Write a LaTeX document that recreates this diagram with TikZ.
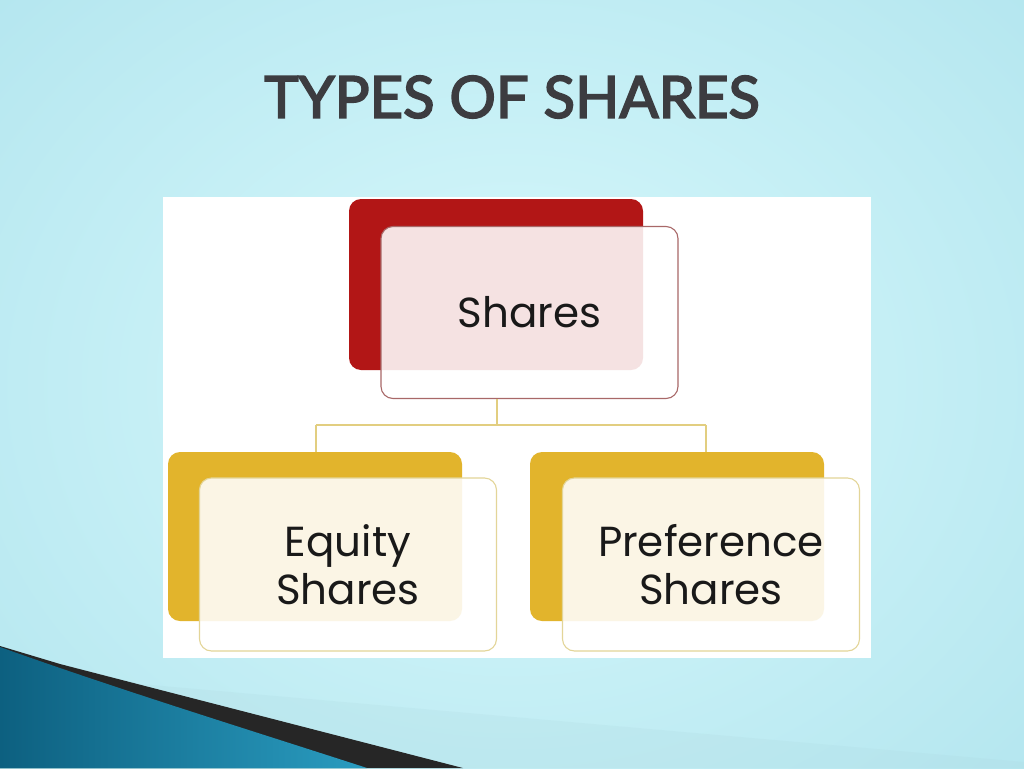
\documentclass[tikz,border=0pt]{standalone}
\usepackage{fontspec}
\setmainfont{Poppins}
\newfontfamily\titlefont{Lato}[FakeBold=3]
\definecolor{bgedge}{HTML}{B4E6EF}
\definecolor{bgmid}{HTML}{D8F9FC}
\definecolor{redbox}{HTML}{B21616}
\definecolor{redline}{HTML}{A86868}
\definecolor{goldbox}{HTML}{E2B42C}
\definecolor{goldline}{HTML}{E3D598}
\definecolor{conn}{HTML}{E2CE80}
\definecolor{teal}{HTML}{2A9CC0}
\definecolor{tealdark}{HTML}{0D6080}
\definecolor{titlegray}{HTML}{3C3C40}
\tikzset{
  backbox/.style={rounded corners=12pt, minimum width=294pt, minimum height=171pt, inner sep=0pt},
  frontbox/.style={rounded corners=12pt, minimum width=297pt, minimum height=172pt, inner sep=0pt, fill=white, fill opacity=0.88, text opacity=1, line width=1.1pt, align=center, font=\fontsize{42}{48}\selectfont, text=black!90},
  titletext/.style={font=\titlefont\fontsize{58}{62}\selectfont},
  conline/.style={draw=conn, line width=1.3pt}
}
\begin{document}
\begin{tikzpicture}[x=1pt,y=-1pt]
\useasboundingbox (0,0) rectangle (1024,768);
% background
\shade[inner color=bgmid, outer color=bgedge] (-200,-200) rectangle (1224,968);
% bottom-left decoration
\fill[black!85] (0,646) -- (60,664) -- (463,768) -- (0,768) -- cycle;
\shade[left color=tealdark, right color=teal] (0,647) .. controls (120,690) and (250,730) .. (367,768) -- (0,768) -- cycle;
\fill[bgedge!85!gray, opacity=0.2] (60,664) -- (463,768) -- (1024,768) -- (1024,762) -- (140,684) -- cycle;
% title
\node[titletext, text=titlegray] (title) at (512,97) {TYPES OF SHARES};
% picture panel
\fill[white] (163,197) rectangle (871,658);
% boxes
\node[backbox, fill=redbox] (sharesback) at (496,284.5) {};
\node[frontbox, draw=redline] (shares) at (529.5,312.5) {Shares};
\node[backbox, fill=goldbox, minimum height=169pt] (eqback) at (315,536.5) {};
\node[frontbox, draw=goldline, minimum height=173pt] (equity) at (348,564.5) {Equity\\Shares};
\node[backbox, fill=goldbox, minimum height=169pt] (prefback) at (677,536.5) {};
\node[frontbox, draw=goldline, minimum height=173pt] (pref) at (711,564.5) {Preference\\Shares};
% connectors
\coordinate (j) at (497,425);
\coordinate (jl) at (316,425);
\coordinate (jr) at (706,425);
\draw[conline] (shares.south -| j) -- (j);
\draw[conline] (jl) -- (jr);
\draw[conline] (jl) -- (jl |- eqback.north);
\draw[conline] (jr) -- (jr |- prefback.north);
\end{tikzpicture}
\end{document}
